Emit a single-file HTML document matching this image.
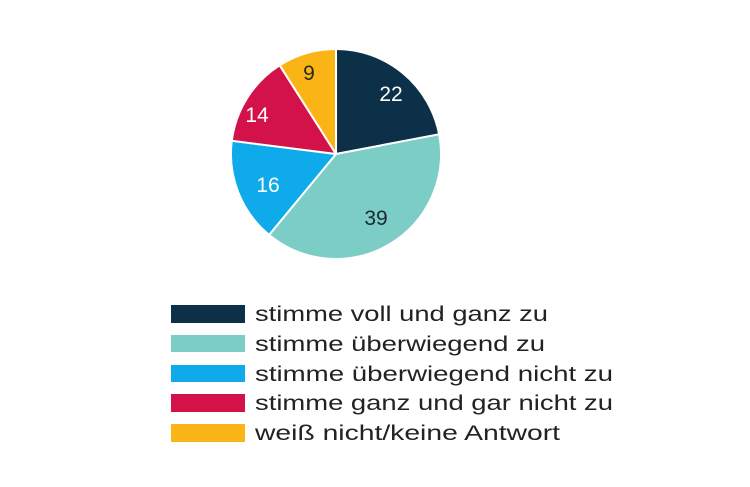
<!DOCTYPE html>
<html><head><meta charset="utf-8"><style>html,body{margin:0;padding:0;background:#fff}</style></head>
<body>
<svg width="750" height="482" viewBox="0 0 750 482" xmlns="http://www.w3.org/2000/svg" font-family="Liberation Sans, sans-serif">
<g stroke="#fff" stroke-width="2" stroke-linejoin="round">
<path d="M336,154 L336,49 A105,105 0 0 1 439.1,134.3 Z" fill="#0d3049"/>
<path d="M336,154 L439.1,134.3 A105,105 0 0 1 269.1,234.9 Z" fill="#7ccdc6"/>
<path d="M336,154 L269.1,234.9 A105,105 0 0 1 231.8,140.8 Z" fill="#0eaae9"/>
<path d="M336,154 L231.8,140.8 A105,105 0 0 1 279.7,65.3 Z" fill="#d3124a"/>
<path d="M336,154 L279.7,65.3 A105,105 0 0 1 336,49 Z" fill="#fbb416"/>
</g>
<g font-size="21" text-anchor="middle">
<text x="391" y="101" fill="#fff">22</text>
<text x="376" y="225" fill="#1a2a33">39</text>
<text x="268" y="192" fill="#fff">16</text>
<text x="257" y="122" fill="#fff">14</text>
<text x="309" y="80" fill="#2a2a1a">9</text>
</g>
<rect x="171" y="305" width="74" height="18" fill="#0d3049"/>
<rect x="171" y="335" width="74" height="17" fill="#7ccdc6"/>
<rect x="171" y="365" width="74" height="17" fill="#0eaae9"/>
<rect x="171" y="394" width="74" height="18" fill="#d3124a"/>
<rect x="171" y="424" width="74" height="18" fill="#fbb416"/>
<g font-size="21" fill="#222">
<text x="255" y="321" textLength="293" lengthAdjust="spacingAndGlyphs">stimme voll und ganz zu</text>
<text x="255" y="351" textLength="290" lengthAdjust="spacingAndGlyphs">stimme überwiegend zu</text>
<text x="255" y="381" textLength="358" lengthAdjust="spacingAndGlyphs">stimme überwiegend nicht zu</text>
<text x="255" y="410" textLength="358" lengthAdjust="spacingAndGlyphs">stimme ganz und gar nicht zu</text>
<text x="255" y="440" textLength="305" lengthAdjust="spacingAndGlyphs">weiß nicht/keine Antwort</text>
</g>
</svg>
</body></html>
